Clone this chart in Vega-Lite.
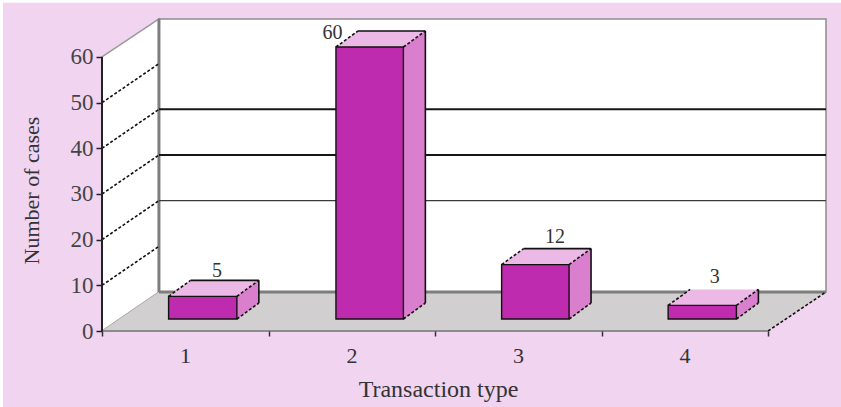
{
  "$schema": "https://vega.github.io/schema/vega-lite/v6.json",
  "autosize": "none",
  "width": 724,
  "height": 312,
  "padding": {"left": 102, "top": 19, "right": 15, "bottom": 76},
  "background": "#ffffff",
  "config": {"view": {"stroke": null}},
  "datasets": {
    "panel": [{"x": -0.595, "x2": 4.44, "y": -16.7, "y2": 71.9}],
    "backWall": [{"x": 0.342, "x2": 4.348, "y": 8.54, "y2": 68.32}],
    "sideWall": [
      {"x": 0, "y": 0, "y2": 60},
      {"x": 0.342, "y": 8.54, "y2": 68.32}
    ],
    "floor": [
      {"y": 0, "x": 0, "x2": 4},
      {"y": 8.54, "x": 0.342, "x2": 4.348}
    ],
    "heavyGrid": [
      {"level": 30, "x": 0.342, "x2": 4.348, "y": 38.54, "y2": 38.54},
      {"level": 40, "x": 0.342, "x2": 4.348, "y": 48.54, "y2": 48.54}
    ],
    "lightGrid": [
      {"level": 20, "x": 0.342, "x2": 4.348, "y": 28.54, "y2": 28.54}
    ],
    "wallEdges": [
      {"x": 0.342, "x2": 0.342, "y": 8.54, "y2": 68.32},
      {"x": 0.342, "x2": 4.348, "y": 8.54, "y2": 8.54}
    ],
    "frontEdge": [
      {"x": 0, "x2": 4, "y": 0, "y2": 0}
    ],
    "yAxisLine": [
      {"x": 0, "x2": 0, "y": 0, "y2": 60}
    ],
    "slants": [
      {"level": 10, "x": 0, "x2": 0.342, "y": 10, "y2": 18.54},
      {"level": 20, "x": 0, "x2": 0.342, "y": 20, "y2": 28.54},
      {"level": 30, "x": 0, "x2": 0.342, "y": 30, "y2": 38.54},
      {"level": 40, "x": 0, "x2": 0.342, "y": 40, "y2": 48.54},
      {"level": 50, "x": 0, "x2": 0.342, "y": 50, "y2": 58.54},
      {"level": 0, "x": 4, "x2": 4.348, "y": 0, "y2": 8.54}
    ],
    "bars": [
      {"type": 1, "value": 5, "x": 0.4, "x2": 0.81, "base": 0},
      {"type": 2, "value": 60, "x": 1.405, "x2": 1.81, "base": 0},
      {"type": 3, "value": 12, "x": 2.4, "x2": 2.805, "base": 0},
      {"type": 4, "value": 3, "x": 3.4, "x2": 3.81, "base": 0}
    ],
    "barSides": [
      {"type": 1, "x": 0.81, "y": 0, "y2": 5},
      {"type": 1, "x": 0.942, "y": 3.53, "y2": 8.53},
      {"type": 2, "x": 1.81, "y": 0, "y2": 60},
      {"type": 2, "x": 1.942, "y": 3.53, "y2": 63.53},
      {"type": 3, "x": 2.805, "y": 0, "y2": 12},
      {"type": 3, "x": 2.937, "y": 3.53, "y2": 15.53},
      {"type": 4, "x": 3.81, "y": 0, "y2": 3},
      {"type": 4, "x": 3.942, "y": 3.53, "y2": 6.53}
    ],
    "barTops": [
      {"type": 1, "y": 5, "x": 0.4, "x2": 0.81},
      {"type": 1, "y": 8.53, "x": 0.532, "x2": 0.942},
      {"type": 2, "y": 60, "x": 1.405, "x2": 1.81},
      {"type": 2, "y": 63.53, "x": 1.537, "x2": 1.942},
      {"type": 3, "y": 12, "x": 2.4, "x2": 2.805},
      {"type": 3, "y": 15.53, "x": 2.532, "x2": 2.937},
      {"type": 4, "y": 3, "x": 3.4, "x2": 3.81},
      {"type": 4, "y": 6.53, "x": 3.532, "x2": 3.942}
    ],
    "barSolidEdges": [
      {"type": 1, "x": 0.532, "x2": 0.942, "y": 8.53, "y2": 8.53},
      {"type": 1, "x": 0.942, "x2": 0.942, "y": 3.53, "y2": 8.53},
      {"type": 2, "x": 1.537, "x2": 1.942, "y": 63.53, "y2": 63.53},
      {"type": 2, "x": 1.942, "x2": 1.942, "y": 3.53, "y2": 63.53},
      {"type": 3, "x": 2.532, "x2": 2.937, "y": 15.53, "y2": 15.53},
      {"type": 3, "x": 2.937, "x2": 2.937, "y": 3.53, "y2": 15.53},
      {"type": 4, "x": 3.942, "x2": 3.942, "y": 3.53, "y2": 6.53}
    ],
    "barDashedEdges": [
      {"type": 1, "x": 0.4, "x2": 0.532, "y": 5, "y2": 8.53},
      {"type": 1, "x": 0.81, "x2": 0.942, "y": 5, "y2": 8.53},
      {"type": 1, "x": 0.81, "x2": 0.942, "y": 0, "y2": 3.53},
      {"type": 2, "x": 1.405, "x2": 1.537, "y": 60, "y2": 63.53},
      {"type": 2, "x": 1.81, "x2": 1.942, "y": 60, "y2": 63.53},
      {"type": 2, "x": 1.81, "x2": 1.942, "y": 0, "y2": 3.53},
      {"type": 3, "x": 2.4, "x2": 2.532, "y": 12, "y2": 15.53},
      {"type": 3, "x": 2.805, "x2": 2.937, "y": 12, "y2": 15.53},
      {"type": 3, "x": 2.805, "x2": 2.937, "y": 0, "y2": 3.53},
      {"type": 4, "x": 3.4, "x2": 3.532, "y": 3, "y2": 6.53},
      {"type": 4, "x": 3.81, "x2": 3.942, "y": 3, "y2": 6.53},
      {"type": 4, "x": 3.81, "x2": 3.942, "y": 0, "y2": 3.53}
    ],
    "barLabels": [
      {"type": 1, "label": "5", "x": 0.69, "y": 10.6},
      {"type": 2, "label": "60", "x": 1.385, "y": 63.1},
      {"type": 3, "label": "12", "x": 2.72, "y": 18.1},
      {"type": 4, "label": "3", "x": 3.68, "y": 9.3}
    ]
  },
  "resolve": {"scale": {"y": "independent"}, "axis": {"x": "independent", "y": "independent"}},
  "layer": [
    {
      "encoding": {
        "x": {"field": "x", "type": "quantitative", "scale": {"domain": [0, 4.348], "nice": false, "zero": false}, "axis": null},
        "y": {"field": "y", "type": "quantitative", "scale": {"domain": [0, 68.32], "nice": false, "zero": false}, "axis": null}
      },
      "layer": [
        {
          "data": {"name": "panel"},
          "mark": {"type": "rect", "fill": "#f0d4f0"},
          "encoding": {"x2": {"field": "x2"}, "y2": {"field": "y2"}}
        },
        {
          "data": {"name": "sideWall"},
          "mark": {"type": "area", "orient": "vertical", "fill": "#ffffff", "stroke": "#9a9a9a", "strokeWidth": 1.5},
          "encoding": {"y2": {"field": "y2"}}
        },
        {
          "data": {"name": "backWall"},
          "mark": {"type": "rect", "fill": "#ffffff", "stroke": "#8c8c8c", "strokeWidth": 1.5},
          "encoding": {"x2": {"field": "x2"}, "y2": {"field": "y2"}}
        },
        {
          "data": {"name": "floor"},
          "mark": {"type": "area", "orient": "horizontal", "fill": "#d1cfcf"},
          "encoding": {"x2": {"field": "x2"}}
        },
        {
          "data": {"name": "wallEdges"},
          "mark": {"type": "rule", "stroke": "#7d7d7d", "strokeWidth": 3},
          "encoding": {"x2": {"field": "x2"}, "y2": {"field": "y2"}}
        },
        {
          "data": {"name": "heavyGrid"},
          "mark": {"type": "rule", "stroke": "#161616", "strokeWidth": 2},
          "encoding": {"x2": {"field": "x2"}, "y2": {"field": "y2"}}
        },
        {
          "data": {"name": "lightGrid"},
          "mark": {"type": "rule", "stroke": "#3a3a3a", "strokeWidth": 1.3},
          "encoding": {"x2": {"field": "x2"}, "y2": {"field": "y2"}}
        },
        {
          "data": {"name": "slants"},
          "mark": {"type": "rule", "stroke": "#111111", "strokeWidth": 1.6, "strokeDash": [3, 2]},
          "encoding": {"x2": {"field": "x2"}, "y2": {"field": "y2"}}
        }
      ]
    },
    {
      "encoding": {
        "x": {"field": "x", "type": "quantitative", "scale": {"domain": [0, 4.348], "nice": false, "zero": false}, "axis": null},
        "y": {"field": "y", "type": "quantitative", "scale": {"domain": [-2.647, 66.18], "nice": false, "zero": false}, "axis": null}
      },
      "layer": [
        {
          "data": {"name": "barSides"},
          "mark": {"type": "area", "orient": "vertical", "fill": "#d97fce"},
          "encoding": {"detail": {"field": "type"}, "y2": {"field": "y2"}}
        },
        {
          "data": {"name": "barTops"},
          "mark": {"type": "area", "orient": "horizontal", "fill": "#ecb8e6"},
          "encoding": {"detail": {"field": "type"}, "x2": {"field": "x2"}}
        },
        {
          "data": {"name": "barSolidEdges"},
          "mark": {"type": "rule", "stroke": "#111111", "strokeWidth": 1.6},
          "encoding": {"x2": {"field": "x2"}, "y2": {"field": "y2"}}
        },
        {
          "data": {"name": "barDashedEdges"},
          "mark": {"type": "rule", "stroke": "#111111", "strokeWidth": 1.6, "strokeDash": [3, 2]},
          "encoding": {"x2": {"field": "x2"}, "y2": {"field": "y2"}}
        },
        {
          "data": {"name": "bars"},
          "mark": {"type": "rect", "fill": "#bf2bae", "stroke": "#111111", "strokeWidth": 1.4},
          "encoding": {
            "y": {"field": "value", "type": "quantitative", "scale": {"domain": [-2.647, 66.18], "nice": false, "zero": false}, "axis": null},
            "x2": {"field": "x2"},
            "y2": {"field": "base"}
          }
        },
        {
          "data": {"name": "barLabels"},
          "mark": {"type": "text", "font": "Liberation Serif", "fontSize": 20, "color": "#333333", "baseline": "middle", "align": "center"},
          "encoding": {"text": {"field": "label"}}
        }
      ]
    },
    {
      "data": {"name": "frontEdge"},
      "mark": {"type": "rule", "stroke": "#8c8c8c", "strokeWidth": 2},
      "encoding": {
        "x": {
          "field": "x", "type": "quantitative",
          "scale": {"domain": [0, 4.348], "nice": false, "zero": false},
          "axis": {
            "values": [0, 1, 2, 3, 4],
            "zindex": 1,
            "domain": false,
            "grid": false,
            "tickColor": "#333333",
            "tickSize": 5,
            "tickWidth": 1.5,
            "labelExpr": "datum.value < 4 ? format(datum.value + 1, 'd') : ''",
            "labelOffset": 83,
            "labelBound": false,
            "labelFlush": false,
            "labelOverlap": false,
            "labelFont": "Liberation Serif",
            "labelFontSize": 22,
            "labelColor": "#333333",
            "labelPadding": 9,
            "title": "Transaction type",
            "titleFont": "Liberation Serif",
            "titleFontSize": 24,
            "titleFontWeight": "normal",
            "titleColor": "#333333",
            "titleX": 336,
            "titleY": 46
          }
        },
        "x2": {"field": "x2"},
        "y": {"field": "y", "type": "quantitative", "scale": {"domain": [0, 68.32], "nice": false, "zero": false}, "axis": null}
      }
    },
    {
      "data": {"name": "yAxisLine"},
      "mark": {"type": "rule", "stroke": "#222222", "strokeWidth": 2},
      "encoding": {
        "x": {"field": "x", "type": "quantitative", "scale": {"domain": [0, 4.348], "nice": false, "zero": false}, "axis": null},
        "y": {
          "field": "y", "type": "quantitative",
          "scale": {"domain": [0, 68.32], "nice": false, "zero": false},
          "axis": {
            "values": [0, 10, 20, 30, 40, 50, 60],
            "zindex": 1,
            "domain": false,
            "grid": false,
            "tickColor": "#222222",
            "tickSize": 6,
            "tickWidth": 1.5,
            "labelFont": "Liberation Serif",
            "labelFontSize": 23,
            "labelColor": "#444444",
            "labelPadding": 3,
            "title": "Number of cases",
            "titleFont": "Liberation Serif",
            "titleFontSize": 22,
            "titleFontWeight": "normal",
            "titleColor": "#333333",
            "titleAngle": 270,
            "titleX": -59,
            "titleY": 171
          }
        },
        "y2": {"field": "y2"}
      }
    }
  ]
}
